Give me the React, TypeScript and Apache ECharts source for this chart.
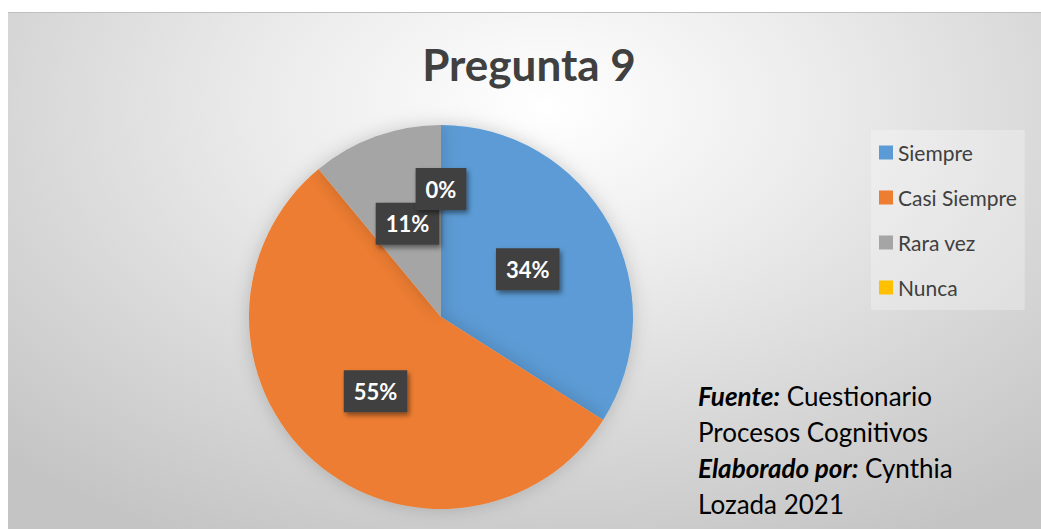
import React, { useEffect, useRef } from "react";
import * as echarts from "echarts";

const categories = ["Siempre", "Casi Siempre", "Rara vez", "Nunca"];
const values = [34, 55, 11, 0];
const colors = ["#5B9BD5", "#ED7D31", "#A5A5A5", "#FFC000"];
const titleText = "Pregunta 9";

export default function App() {
  const ref = useRef<HTMLDivElement>(null);
  useEffect(() => {
    document.body.style.margin = "0";
    document.body.style.overflow = "hidden";
    const chart = echarts.init(ref.current!, null, { renderer: "svg" });
    const font = "Lato, 'Open Sans', sans-serif";
    chart.setOption({
      animation: false,
      backgroundColor: "transparent",
      color: colors,
      legend: {
        orient: "vertical",
        left: 863,
        top: 117,
        padding: [12, 8, 12, 8],
        backgroundColor: "rgba(255,255,255,0.28)",
        icon: "rect",
        itemWidth: 14,
        itemHeight: 14,
        itemGap: 24,
        data: categories,
        textStyle: { fontFamily: font, fontSize: 21, color: "#404040", lineHeight: 21 },
      },
      graphic: [
        {
          type: "text",
          style: {
            text: titleText,
            x: 521,
            y: 51,
            align: "center",
            verticalAlign: "middle",
            font: "bold 44px Lato, sans-serif",
            fill: "#404040",
          },
        },
        {
          type: "text",
          style: {
            x: 690,
            y: 365,
            text: "{b|Fuente:} Cuestionario\nProcesos Cognitivos\n{b|Elaborado por:} Cynthia\nLozada 2021",
            fontFamily: font,
            fontSize: 26,
            lineHeight: 36,
            fill: "#000000",
            rich: {
              b: { fontWeight: "bold", fontStyle: "italic", fontSize: 26, fontFamily: font, lineHeight: 36, fill: "#000" },
            },
          },
        },
      ],
      series: [
        {
          type: "pie",
          center: [433, 304],
          radius: [0, 192],
          startAngle: 90,
          clockwise: true,
          avoidLabelOverlap: false,
          itemStyle: { shadowBlur: 18, shadowColor: "rgba(0,0,0,0.18)" },
          label: {
            show: true,
            position: "inside",
            formatter: (p: any) => Math.round(p.percent) + "%",
            fontFamily: font,
            fontWeight: "bold",
            fontSize: 22,
            color: "#ffffff",
            backgroundColor: "#404040",
            padding: [9, 10, 9, 10],
            lineHeight: 24,
            shadowBlur: 5,
            shadowOffsetX: 2,
            shadowOffsetY: 3,
            shadowColor: "rgba(0,0,0,0.45)",
          },
          labelLine: { show: false },
          labelLayout: (params: any) => (params.dataIndex === 3 ? { dy: -29, dx: 0 } : {}),
          emphasis: { disabled: true },
          data: categories.map((name, i) => ({ name, value: values[i] })),
        },
      ],
    });
    return () => chart.dispose();
  }, []);
  return (
    <div
      ref={ref}
      style={{
        position: "absolute",
        left: 8,
        top: 12,
        width: 1033,
        height: 517,
        borderTop: "1px solid #bfbfbf",
        boxSizing: "border-box",
        background:
          "radial-gradient(ellipse 75% 95% at 52% 18%, #ffffff 0%, #ececec 35%, #d6d6d6 70%, #c4c4c4 100%)",
      }}
    />
  );
}
